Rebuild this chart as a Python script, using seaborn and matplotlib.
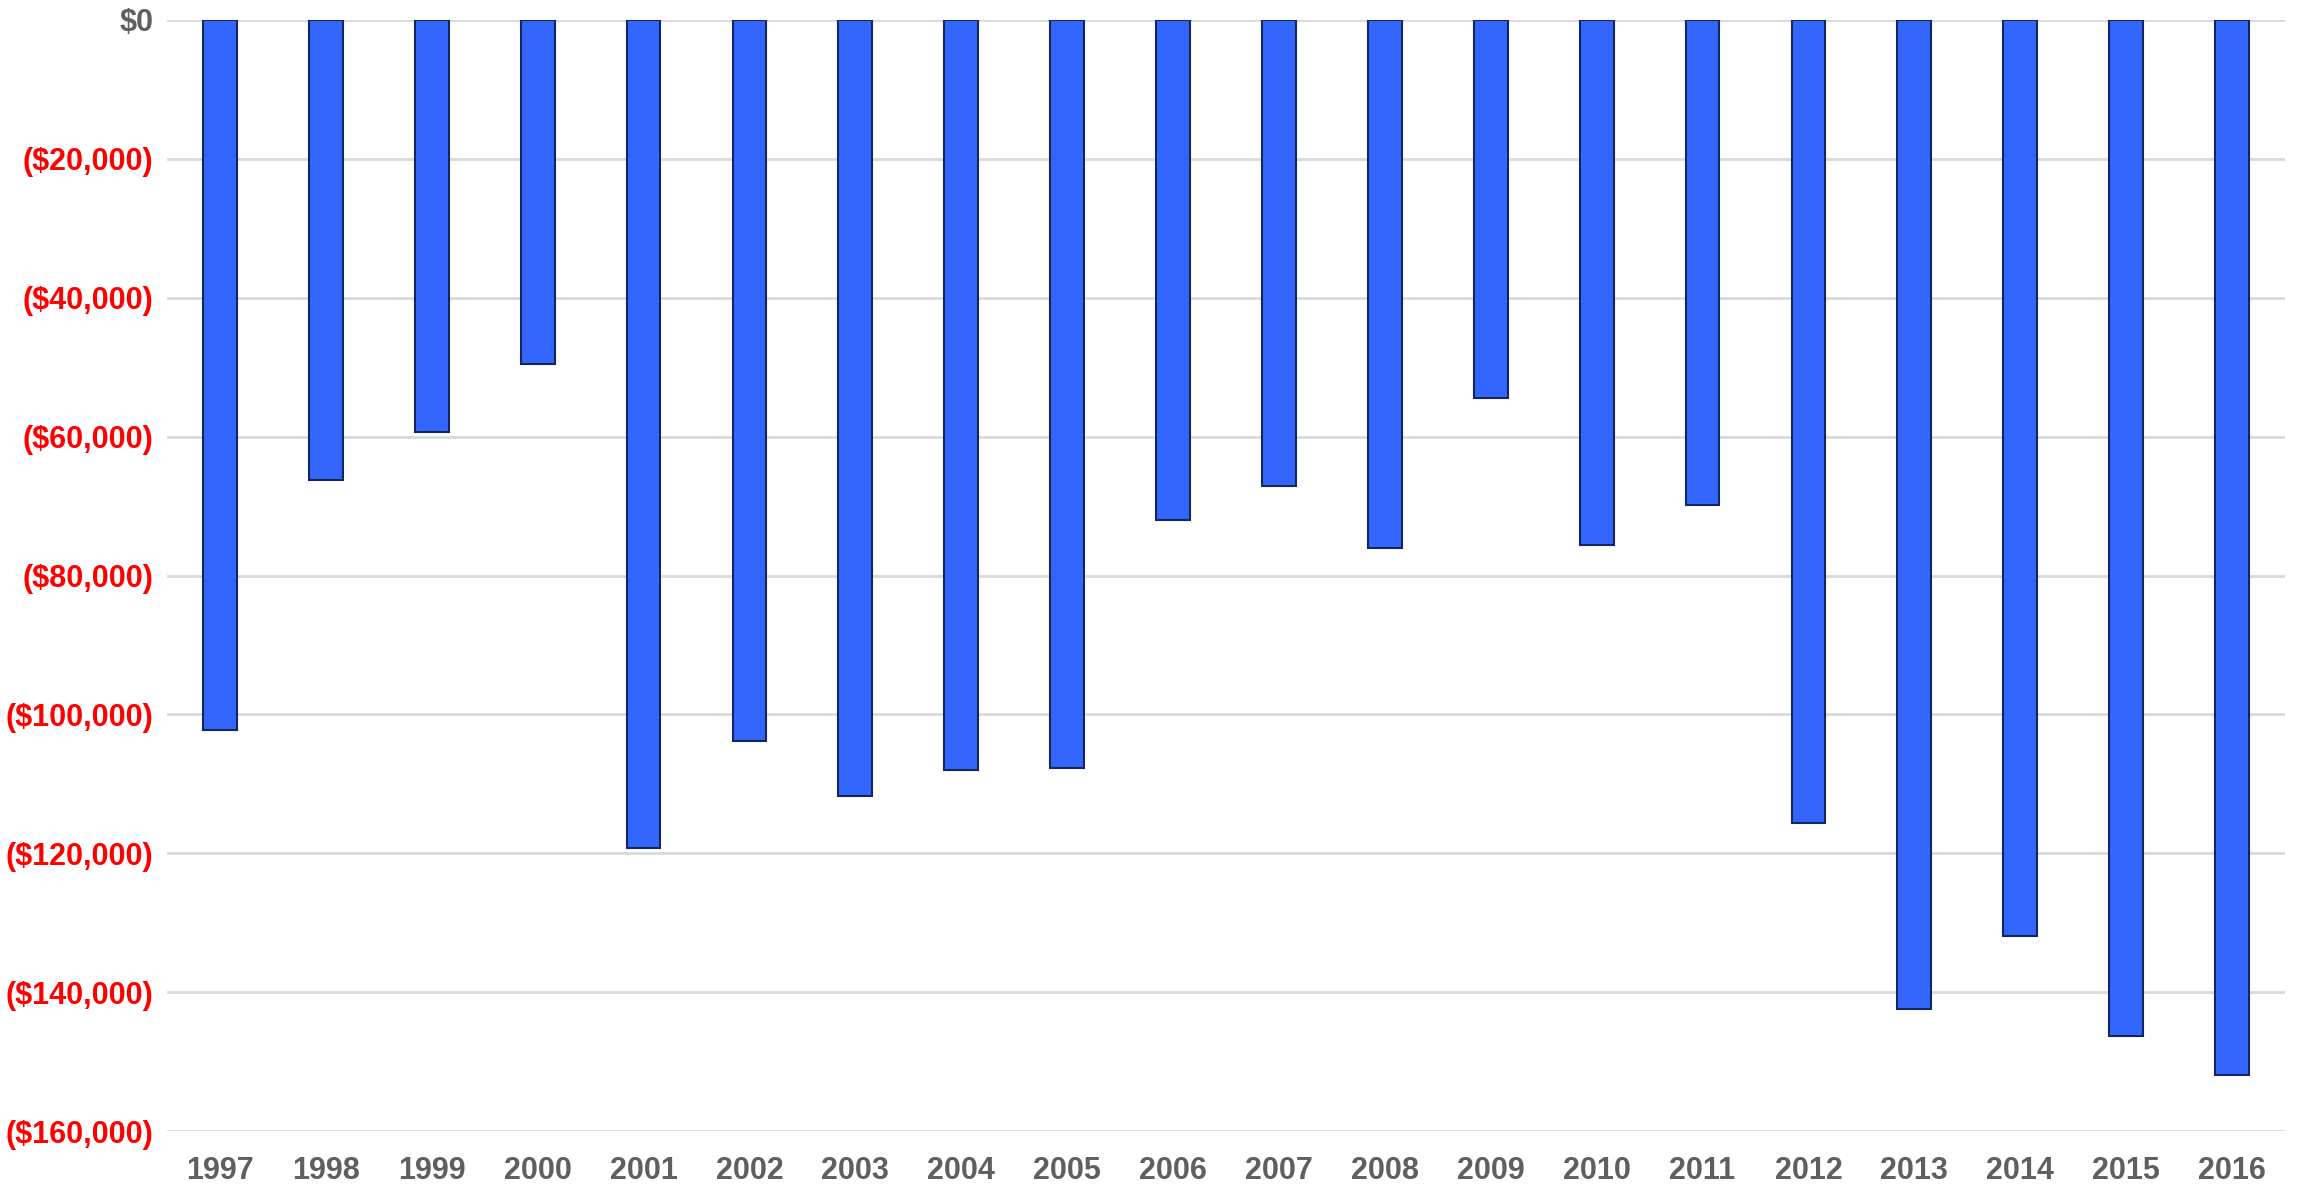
import matplotlib
matplotlib.use("Agg")
import matplotlib.pyplot as plt
import seaborn as sns
import pandas as pd
from matplotlib.ticker import FuncFormatter

years = [str(y) for y in range(1997, 2017)]
values = [-102200, -66300, -59300, -49600, -119300, -103800, -111700, -108000, -107700, -72000,
          -67100, -76000, -54500, -75600, -69900, -115700, -142400, -131900, -146300, -151900]
yticks = [0, -20000, -40000, -60000, -80000, -100000, -120000, -140000, -160000]

df = pd.DataFrame({"year": years, "value": values})

sns.set_theme(style="white")
plt.rcParams['font.family'] = ['Liberation Sans', 'DejaVu Sans']

fig = plt.figure(figsize=(22.97, 11.88), dpi=100)
ax = fig.add_axes([167/2297, 1 - 1131/1188, (2285-167)/2297, (1131-20)/1188])

sns.barplot(data=df, x="year", y="value", ax=ax, color="#3366FF", saturation=1,
            width=0.32, edgecolor="#14265e", linewidth=1.5, zorder=3)

ax.set_ylim(-160000, 0)
ax.set_xlim(-0.5, len(years) - 0.5)
ax.set_yticks(yticks)

def fmt(v, pos):
    if v == 0:
        return "$0"
    return "(${:,.0f})".format(abs(v))

ax.yaxis.set_major_formatter(FuncFormatter(fmt))
ax.grid(axis="y", color="#d9d9d9", linewidth=2, zorder=0)
ax.grid(axis="x", visible=False)
for s in ax.spines.values():
    s.set_visible(False)
ax.set_xlabel("")
ax.set_ylabel("")
ax.tick_params(axis="both", length=0)
ax.tick_params(axis="y", pad=10, labelsize=22)
ax.tick_params(axis="x", pad=18, labelsize=22)
for lbl in ax.get_yticklabels():
    lbl.set_fontweight("bold")
    lbl.set_color("#5f5f5f" if lbl.get_text() == "$0" else "#FF0000")
for lbl in ax.get_xticklabels():
    lbl.set_fontweight("bold")
    lbl.set_color("#5f5f5f")

fig.savefig("out.png", dpi=100, facecolor="white")
